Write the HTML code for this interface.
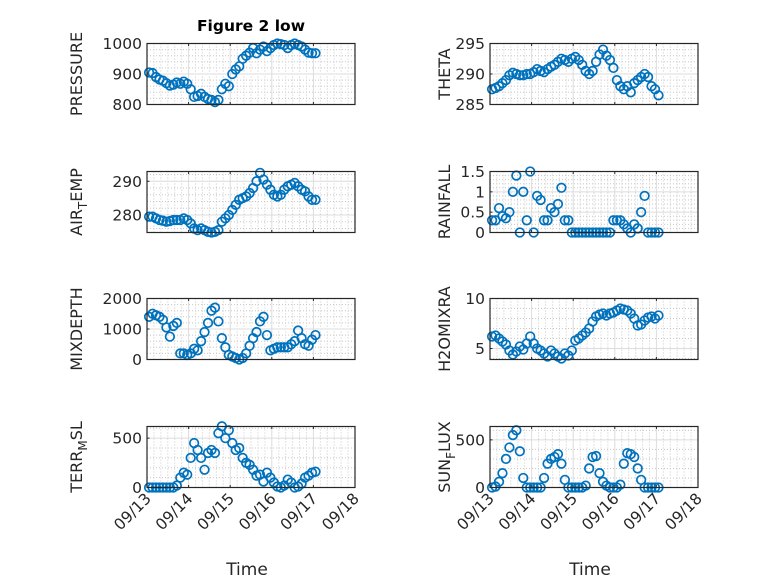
<!DOCTYPE html>
<html><head><meta charset="utf-8">
<style>
html,body{margin:0;padding:0;background:#fff;}
svg{display:block;font-family:"DejaVu Sans","Liberation Sans",sans-serif;}
</style></head>
<body>
<svg id="fig" width="778" height="583" viewBox="0 0 778 583" xmlns="http://www.w3.org/2000/svg">
<rect width="778" height="583" fill="#fff"/>
<text x="251" y="31" font-size="15.5" font-weight="bold" text-anchor="middle" fill="#000">Figure 2 low</text>
</svg>
<script>
const dayTicks = ['09/13','09/14','09/15','09/16','09/17','09/18'];
const pressure = [905,903,890,882,878,870,862,865,872,868,875,868,850,825,828,835,825,818,815,808,815,850,868,860,900,915,925,950,960,970,985,968,980,990,975,985,995,1000,998,995,985,995,1000,995,990,980,970,968,968];
const airTemp = [279.5,279.5,279,278.5,278.3,278,278.2,278.5,278.5,278.5,279,278.5,277.5,276,275.5,276,275.5,275,274.8,275,275.5,278,279,280,281.5,283,284.5,285,285.5,286.5,288,290,292.5,290.5,289,287.5,286,285.5,286,287.5,288.5,289,289.5,288.5,287.5,287,285.5,284.5,284.5];
const theta = [287.5,287.7,288,288.5,289,289.8,290.2,290,289.8,289.8,290,290,290.3,290.8,290.5,290.3,290.8,291.2,291.5,292,292.5,292.3,292,292.5,292.8,292.3,291.5,290.5,290,290.5,292,293.2,294,293,292.3,291,289,288,287.5,288,287,288.5,289,289.5,290,289.5,288,287.5,286.5];
const rainfall = [0.3,0.3,0.6,0.4,0.35,0.5,1.0,1.4,0,1.0,0.3,1.5,0,0.9,0.8,0.3,0.3,0.6,0.5,0.7,1.1,0.3,0.3,0,0,0,0,0,0,0,0,0,0,0,0,0.3,0.3,0.3,0.2,0.1,0,0.2,0.1,0.5,0.9,0,0,0,0];
const mixDepth = [1400,1500,1450,1400,1300,1050,750,1100,1200,200,200,150,200,350,300,600,900,1200,1600,1700,1250,700,400,150,100,50,0,50,200,450,700,900,1250,1400,800,300,350,400,400,400,400,500,600,950,700,500,450,650,800];
const h2oMix = [6.2,6.3,6.0,5.7,5.4,4.8,4.4,4.7,5.2,4.9,5.5,6.2,5.5,5.0,4.8,4.5,4.2,4.8,4.5,4.2,4.0,4.5,4.3,4.8,5.8,6.0,6.3,6.6,7.0,7.7,8.2,8.4,8.5,8.3,8.5,8.6,8.8,9.0,8.9,8.8,8.5,8.0,7.3,7.4,7.8,8.1,8.2,8.0,8.3];
const terrMsl = [0,0,0,0,0,0,0,0,20,100,150,130,300,450,380,300,180,350,380,350,550,620,500,580,450,380,400,300,250,230,180,120,130,60,150,100,50,10,0,20,80,50,0,10,40,100,120,150,160];
const sunFlux = [0,10,60,150,300,420,550,600,380,100,0,0,0,0,0,100,250,300,320,350,250,80,0,0,0,0,0,20,200,320,330,150,60,20,0,0,0,30,250,360,350,320,200,80,0,0,0,0,0];
const pressureTicks = [800,900,1000];
const airTempTicks = [280,290];
const thetaTicks = [285,290,295];
const rainTicks = [0,0.5,1,1.5];
const mixTicks = [0,1000,2000];
const h2oTicks = [5,10];
const terrTicks = [0,500];
const sunTicks = [0,500];

const NS='http://www.w3.org/2000/svg';
const svg=document.getElementById('fig');
function mk(tag,attrs,parent){const e=document.createElementNS(NS,tag);for(const k in attrs)e.setAttribute(k,attrs[k]);(parent||svg).appendChild(e);return e;}

const W=208,H=61;
const panels=[
 {name:'pressure',label:'PRESSURE',data:pressure,ticks:pressureTicks,lim:[800,1000],x:147,y:43.5,minor:20},
 {name:'theta',label:'THETA',data:theta,ticks:thetaTicks,lim:[285,295],x:490,y:43.5,minor:1},
 {name:'air-temp',label:'AIR',sub:'T',rest:'EMP',data:airTemp,ticks:airTempTicks,lim:[274.8,292.9],x:147,y:171.5,minor:2},
 {name:'rainfall',label:'RAINFALL',data:rainfall,ticks:rainTicks,lim:[0,1.5],x:490,y:171.5,minor:0.1},
 {name:'mixdepth',label:'MIXDEPTH',data:mixDepth,ticks:mixTicks,lim:[0,2000],x:147,y:298.5,minor:200},
 {name:'h2omixra',label:'H2OMIXRA',data:h2oMix,ticks:h2oTicks,lim:[3.9,10],x:490,y:298.5,minor:1},
 {name:'terr-msl',label:'TERR',sub:'M',rest:'SL',data:terrMsl,ticks:terrTicks,lim:[0,618],x:147,y:426.5,minor:100,bottom:true},
 {name:'sun-flux',label:'SUN',sub:'F',rest:'LUX',data:sunFlux,ticks:sunTicks,lim:[0,640],x:490,y:426.5,minor:100,bottom:true}
];

panels.forEach(p=>{
  const g=mk('g',{});
  
  
  const xs=d=>p.x+d*(W/5);
  const ys=v=>p.y+H-(v-p.lim[0])/(p.lim[1]-p.lim[0])*H;
  for(let i=1;i<30;i++){ if(i%6===0)continue; const x=xs(i/6);
    const l=mk('line',{x1:x,x2:x,y1:p.y,y2:p.y+H,stroke:'#c8c8c8','stroke-width':1,'stroke-dasharray':'1 2'},g);
    
    }
  const start=Math.ceil(p.lim[0]/p.minor-1e-9);
  for(let k=start;k*p.minor<=p.lim[1]+1e-9;k++){ const v=k*p.minor;
    if(p.ticks.some(t=>Math.abs(t-v)<1e-9))continue; const y=ys(v);
    const l=mk('line',{x1:p.x,x2:p.x+W,y1:y,y2:y,stroke:'#c8c8c8','stroke-width':1,'stroke-dasharray':'1 2'},g);
    
    }
  for(let i=1;i<5;i++){const x=xs(i);
    const l=mk('line',{x1:x,x2:x,y1:p.y,y2:p.y+H,stroke:'#dcdcdc','stroke-width':1},g);
    
    }
  p.ticks.forEach(t=>{const y=ys(t);
    const l=mk('line',{x1:p.x,x2:p.x+W,y1:y,y2:y,stroke:'#dcdcdc','stroke-width':1},g);
    
    
    const tk=mk('line',{x1:p.x,x2:p.x+2.5,y1:y,y2:y,stroke:'#262626','stroke-width':1},g);
    
    
    const tx=mk('text',{x:p.x-5,y:y+5.5,'font-size':15.5,'text-anchor':'end',fill:'#262626'},g);
    tx.textContent=String(t);
    
    
  });
  for(let i=0;i<=5;i++){const x=xs(i);
    mk('line',{x1:x,x2:x,y1:p.y+H,y2:p.y+H-2.5,stroke:'#262626','stroke-width':1},g);
    mk('line',{x1:x,x2:x,y1:p.y,y2:p.y+2.5,stroke:'#262626','stroke-width':1},g);
    if(p.bottom){
      const tx=mk('text',{x:0,y:0,'font-size':15.5,'text-anchor':'end',fill:'#262626',transform:`translate(${x+5},${p.y+H+12}) rotate(-45)`},g);
      tx.textContent=dayTicks[i];
      
      
    }
  }
  p.data.forEach((v,i)=>{const d=0.05+i/12;
    const c=mk('circle',{cx:xs(d),cy:ys(v),r:4.3,fill:'none',stroke:'#0072BD','stroke-width':1.7},g);
    
    });
  const box=mk('rect',{x:p.x,y:p.y,width:W,height:H,fill:'none',stroke:'#262626','stroke-width':1.2},g);
  
  
  const lx=p.x-(p.name==='rainfall'||p.name==='sun-flux'||p.name==='h2omixra'||p.name==='theta'?40:65);
  const yl=mk('text',{x:0,y:0,'font-size':16,'text-anchor':'middle',fill:'#262626',transform:`translate(${lx},${p.y+H/2}) rotate(-90)`},g);
  
  
  if(p.sub){
    yl.appendChild(document.createTextNode(p.label));
    const s=mk('tspan',{'font-size':12,dy:5},yl);s.textContent=p.sub;
    const r=mk('tspan',{dy:-5},yl);r.textContent=p.rest;
  } else yl.textContent=p.label;
  if(p.bottom){
    const xt=mk('text',{x:p.x+W/2-4,y:575,'font-size':17,'text-anchor':'middle',fill:'#262626'},g);
    xt.textContent='Time';
    
    
  }
});
</script>
</body></html>
